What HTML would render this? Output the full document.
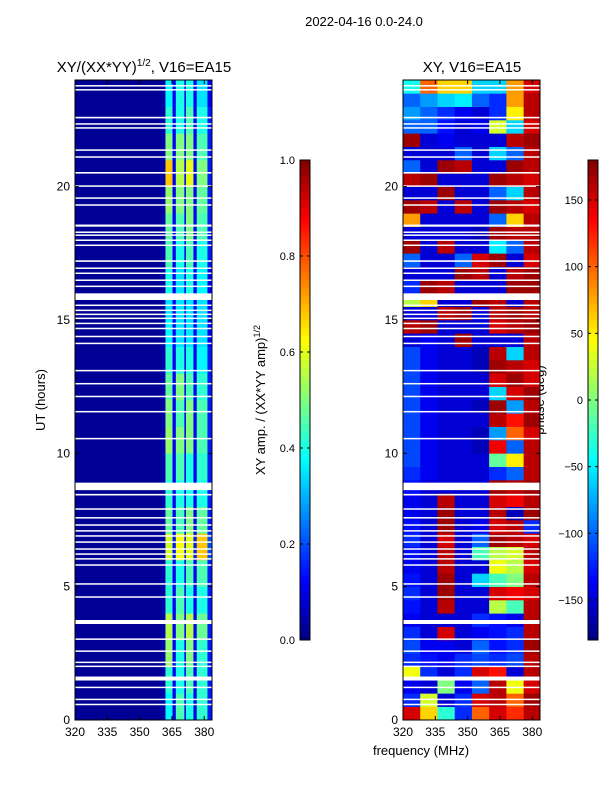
<!DOCTYPE html>
<html><head><meta charset="utf-8">
<style>
body{margin:0;background:#fff;}
svg{display:block;font-family:"Liberation Sans","DejaVu Sans",sans-serif;}
</style></head>
<body>
<svg id="fig" width="600" height="800" viewBox="0 0 600 800">
<rect width="600" height="800" fill="#fff"/>
<text x="364" y="26" font-size="13" text-anchor="middle">2022-04-16 0.0-24.0</text>
<text x="144" y="72" font-size="15" text-anchor="middle">XY/(XX*YY)<tspan font-size="10" dy="-6">1/2</tspan><tspan dy="6">, V16=EA15</tspan></text>
<text x="472" y="72" font-size="15" text-anchor="middle">XY, V16=EA15</text>
<text x="45" y="400" font-size="13" text-anchor="middle" transform="rotate(-90 45 400)">UT (hours)</text>
<text x="421" y="755" font-size="13" text-anchor="middle">frequency (MHz)</text>
<text x="265" y="400" font-size="13" text-anchor="middle" transform="rotate(-90 265 400)">XY amp. / (XX*YY amp)<tspan font-size="9" dy="-5">1/2</tspan></text>
<text x="544" y="400" font-size="13" text-anchor="middle" transform="rotate(-90 544 400)">phase (deg)</text>
<g id="g"></g>
</svg>
<script>
// ---- data ----
const hourTicks=[0,5,10,15,20];
const freqTicks=[320,335,350,365,380];
const ampTicks=[0.0,0.2,0.4,0.6,0.8,1.0];
const phaseTicks=[-150,-100,-50,0,50,100,150];
const ampBackground=0.02;
const ampColStart=[360,362,365.3,366.8,370.8,371.5,375,376.5,381.5];
const ampColEnd=[362,365.3,366.8,370.8,371.5,375,376.5,381.5,383.6];
const ampRows=[ // hour 0..23 (bottom to top)
[0.04,0.37,0.1,0.45,0.12,0.4,0.1,0.42,0.15],
[0.04,0.42,0.12,0.4,0.12,0.45,0.12,0.42,0.15],
[0.04,0.52,0.12,0.4,0.12,0.5,0.12,0.42,0.15],
[0.04,0.55,0.12,0.5,0.12,0.55,0.12,0.48,0.15],
[0.04,0.42,0.12,0.45,0.12,0.4,0.12,0.4,0.15],
[0.04,0.42,0.12,0.4,0.12,0.45,0.12,0.45,0.15],
[0.04,0.58,0.15,0.62,0.15,0.6,0.15,0.68,0.2],
[0.04,0.47,0.12,0.45,0.12,0.5,0.12,0.47,0.15],
[0.04,0.42,0.12,0.4,0.12,0.4,0.12,0.4,0.15],
[0.04,0.45,0.12,0.45,0.12,0.4,0.12,0.42,0.15],
[0.04,0.52,0.12,0.5,0.12,0.5,0.12,0.45,0.15],
[0.04,0.5,0.12,0.45,0.12,0.5,0.12,0.45,0.15],
[0.04,0.47,0.12,0.5,0.12,0.45,0.12,0.42,0.15],
[0.04,0.42,0.12,0.4,0.12,0.4,0.12,0.37,0.15],
[0.04,0.37,0.12,0.35,0.12,0.35,0.12,0.35,0.12],
[0.04,0.35,0.12,0.35,0.12,0.35,0.12,0.35,0.12],
[0.04,0.4,0.12,0.35,0.12,0.4,0.12,0.37,0.12],
[0.04,0.45,0.12,0.4,0.12,0.45,0.12,0.4,0.15],
[0.04,0.47,0.12,0.45,0.12,0.5,0.12,0.45,0.15],
[0.04,0.52,0.12,0.5,0.12,0.5,0.12,0.47,0.15],
[0.04,0.68,0.12,0.55,0.12,0.6,0.12,0.5,0.15],
[0.04,0.5,0.12,0.5,0.12,0.5,0.12,0.45,0.15],
[0.04,0.42,0.12,0.4,0.12,0.45,0.12,0.4,0.15],
[0.04,0.37,0.12,0.4,0.12,0.4,0.12,0.35,0.12]
];
const phaseColStart=[320,328,336,344,352,360,368,376];
const phaseColWidth=8;
const phaseRowHours=0.5;
const phaseRows=[
[150,60,-30,-120,100,150,120,160],[-120,30,-150,-120,150,160,100,170],
[-140,-150,0,-140,-100,160,40,150],[40,-120,-150,-120,150,130,-150,160],
[-120,-130,-140,-120,-110,-120,-110,160],[-110,-140,-140,-150,-100,-130,-120,170],
[-120,-150,150,-150,-140,-130,-120,160],[-140,-150,-150,-150,-120,-130,-140,160],
[-130,-150,160,-150,-150,20,-20,160],[-120,-150,170,-150,-150,150,140,150],
[-130,-150,170,-150,-60,-20,0,160],[-140,-150,160,-150,-150,40,20,150],
[-130,-150,160,-150,-20,20,30,160],[-120,-150,150,-150,-100,170,160,150],
[-130,-150,170,-150,-140,150,160,-120],[-140,-150,170,-150,-150,160,-160,170],
[-140,-150,160,-150,-150,150,140,160],[-130,-150,-150,-150,-150,170,160,170],
[-120,-140,-150,-150,-150,-120,-100,160],[-110,-140,-150,-150,-150,-10,50,160],
[-110,-140,-150,-150,-160,140,-100,160],[-110,-140,-150,-150,-160,-80,100,150],
[-110,-140,-150,-150,-150,160,130,170],[-110,-140,-150,-150,-160,170,-80,160],
[-110,-140,-150,-150,-150,-60,150,170],[-110,-140,-150,-150,-150,150,170,150],
[-110,-140,-150,-150,-160,170,160,150],[-110,-140,-150,-150,-160,160,-60,160],
[-150,-140,-150,170,-150,-150,-150,160],[160,170,-150,-150,-150,150,160,170],
[-150,-150,160,170,-150,160,170,160],[20,60,-150,-150,170,160,-150,160],
[-120,170,160,-150,-150,-150,170,170],[-150,-150,-150,170,160,-150,160,170],
[-100,-150,-150,-100,150,170,-150,150],[170,-150,160,-150,-150,-50,-100,160],
[-150,-150,-150,-150,-160,170,160,160],[80,-150,-150,-150,-150,-100,60,160],
[170,160,-150,160,-150,170,160,150],[-150,-150,170,-150,-150,-100,-60,160],
[160,170,-150,-150,-150,170,160,150],[-100,-150,170,160,-150,-150,170,160],
[-150,-150,-150,-100,-150,-60,-100,160],[170,-150,-140,-150,-150,-150,160,170],
[-100,-100,-130,-150,-140,30,-60,150],[-80,-100,-120,-140,-150,-120,50,160],
[-100,-80,-60,-50,-100,-120,80,160],[-40,100,60,60,-60,-60,80,150]
];
const flagStart=[23.76,23.61,22.56,22.33,22.18,21.35,21.09,20.49,20.0,19.55,19.29,18.5,18.27,18.16,17.97,17.78,17.18,16.92,16.73,16.47,16.24,15.75,15.53,15.34,15.19,15.04,14.85,14.66,14.36,14.1,13.08,12.59,12.11,11.54,10.53,8.62,8.42,7.89,7.56,7.29,7.07,6.88,6.65,6.39,6.2,6.02,5.79,5.08,4.59,3.6,3.01,2.56,2.14,1.99,1.48,1.2,0.75,0.56];
const flagDur=[0.05,0.05,0.06,0.05,0.05,0.05,0.05,0.06,0.05,0.05,0.05,0.08,0.05,0.05,0.05,0.05,0.06,0.05,0.05,0.05,0.05,0.25,0.05,0.05,0.05,0.05,0.05,0.05,0.05,0.05,0.05,0.05,0.05,0.05,0.05,0.28,0.06,0.05,0.05,0.05,0.05,0.05,0.05,0.05,0.05,0.05,0.05,0.05,0.05,0.15,0.05,0.05,0.05,0.05,0.15,0.05,0.05,0.05];

// ---- layout ----
const NS="http://www.w3.org/2000/svg";
const G=document.getElementById('g');
const PT=80,PB=720,TMAX=24;
const left={x0:75,x1:212},right={x0:403,x1:540};
const FMIN=320,FMAX=383.6;
const cb1={x:300,w:10,y0:160,y1:640},cb2={x:588,w:10,y0:160,y1:640};
function yS(h){return PB-(h/TMAX)*(PB-PT);}
function xS(p,f){return p.x0+(f-FMIN)/(FMAX-FMIN)*(p.x1-p.x0);}
function jet(v){v=Math.max(0,Math.min(1,v));
 const r=Math.max(0,Math.min(1,1.5-Math.abs(4*v-3))),g=Math.max(0,Math.min(1,1.5-Math.abs(4*v-2))),b=Math.max(0,Math.min(1,1.5-Math.abs(4*v-1)));
 return `rgb(${Math.round(r*255)},${Math.round(g*255)},${Math.round(b*255)})`;}
function el(t,a,parent){const e=document.createElementNS(NS,t);for(const k in a)e.setAttribute(k,a[k]);(parent||G).appendChild(e);return e;}

function panel(name){
 const g=el('g',{});
 
 
 return g;}

// left amp heatmap
const gl=panel('amp-heatmap');
const bg=el('rect',{x:left.x0,y:PT,width:left.x1-left.x0,height:PB-PT,fill:jet(ampBackground)},gl);


ampRows.forEach((row,ri)=>{row.forEach((v,ci)=>{
 const xa=xS(left,ampColStart[ci]),xb=Math.min(left.x1,xS(left,ampColEnd[ci]));
 const c=el('rect',{x:xa,y:yS(ri+1),width:xb-xa,height:yS(ri)-yS(ri+1)+0.3,fill:jet(v)},gl);
 
 
});});
// right phase heatmap
const gr=panel('phase-heatmap');
phaseRows.forEach((row,ri)=>{row.forEach((v,ci)=>{
 const xa=xS(right,phaseColStart[ci]),xb=Math.min(right.x1,xS(right,phaseColStart[ci]+phaseColWidth));
 const y1=yS((ri+1)*phaseRowHours),y0=yS(ri*phaseRowHours);
 const c=el('rect',{x:xa,y:y1,width:xb-xa+0.3,height:y0-y1+0.3,fill:jet((v+180)/360)},gr);
 
 
});});
// flags
[left,right].forEach((p)=>{flagStart.forEach((h,i)=>{
 const ya=yS(h+flagDur[i]),yb=yS(h);
 const f=el('rect',{x:p.x0,y:ya,width:p.x1-p.x0,height:Math.max(1.5,yb-ya),fill:'#fff'});
 
 
});});
// axes
[left,right].forEach((p,pi)=>{
 const fr=el('rect',{x:p.x0,y:PT,width:p.x1-p.x0,height:PB-PT,fill:'none',stroke:'#000','stroke-width':1});
 
 
 hourTicks.forEach(h=>{const y=yS(h);
  el('line',{x1:p.x0,x2:p.x0+4,y1:y,y2:y,stroke:'#000'});
  el('line',{x1:p.x1,x2:p.x1-4,y1:y,y2:y,stroke:'#000'});
  const t=el('text',{x:p.x0-5,y:y+4,'font-size':12,'text-anchor':'end'});t.textContent=h;
  
  });
 freqTicks.forEach(f=>{const x=xS(p,f);
  el('line',{x1:x,x2:x,y1:PB,y2:PB-4,stroke:'#000'});
  el('line',{x1:x,x2:x,y1:PT,y2:PT+4,stroke:'#000'});
  const t=el('text',{x:x,y:PB+16,'font-size':12,'text-anchor':'middle'});t.textContent=f;
  
  });
});
// colorbars
function colorbar(cb,ticks,vmin,vmax,name,fmt){
 const n=120,h=(cb.y1-cb.y0)/n;
 for(let i=0;i<n;i++){el('rect',{x:cb.x,y:cb.y1-(i+1)*h,width:cb.w,height:h+0.4,fill:jet((i+0.5)/n)});}
 const fr=el('rect',{x:cb.x,y:cb.y0,width:cb.w,height:cb.y1-cb.y0,fill:'none',stroke:'#000'});
 
 
 ticks.forEach(v=>{const y=cb.y1-(v-vmin)/(vmax-vmin)*(cb.y1-cb.y0);
  el('line',{x1:cb.x,x2:cb.x+3,y1:y,y2:y,stroke:'#000'});
  el('line',{x1:cb.x+cb.w,x2:cb.x+cb.w-3,y1:y,y2:y,stroke:'#000'});
  const t=el('text',{x:cb.x-5,y:y+4,'font-size':11,'text-anchor':'end'});t.textContent=fmt(v);
  
  });
}
colorbar(cb1,ampTicks,0,1,'amp-colorbar',v=>v.toFixed(1));
colorbar(cb2,phaseTicks,-180,180,'phase-colorbar',v=>v<0?'\u2212'+(-v):''+v);
</script>
</body></html>
